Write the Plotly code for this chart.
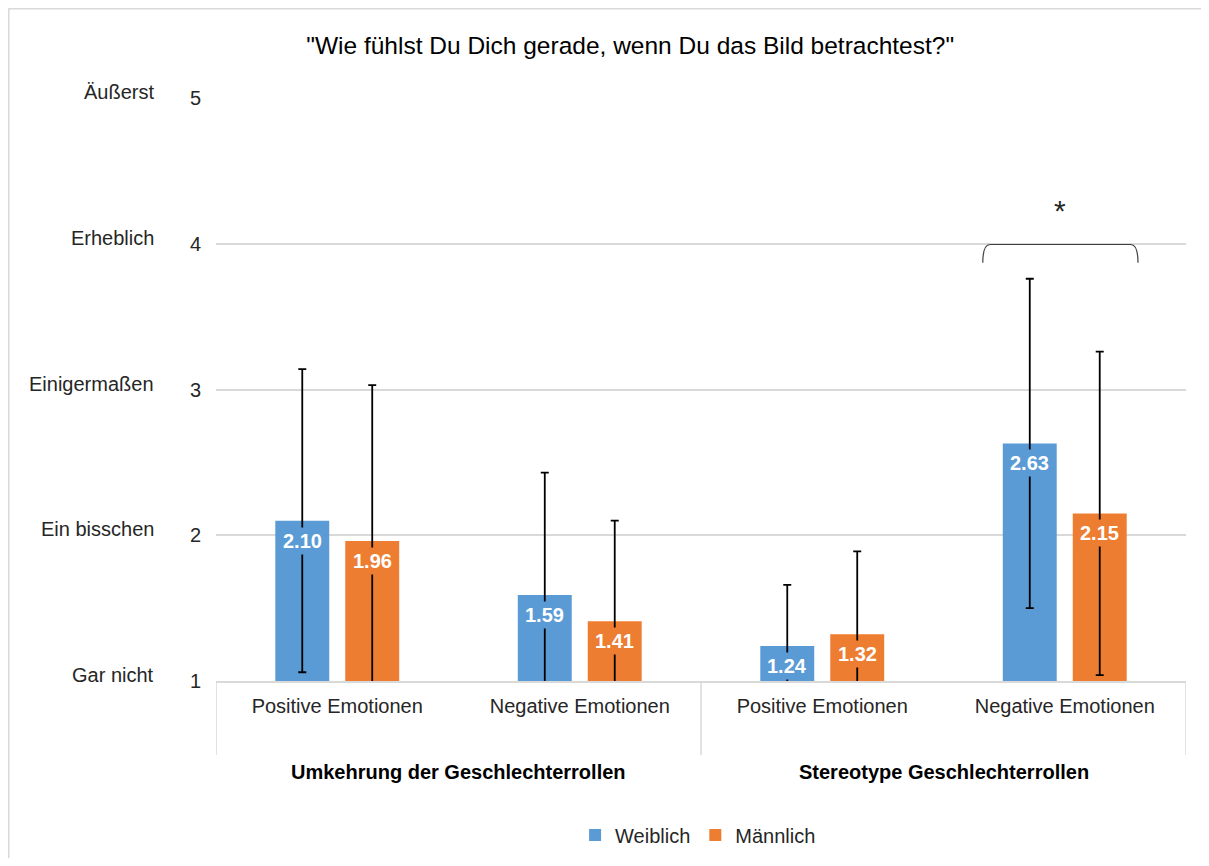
import plotly.graph_objects as go

# ---- data ----
inner_labels = ["Positive Emotionen", "Negative Emotionen", "Positive Emotionen", "Negative Emotionen"]
outer_labels = ["Umkehrung der Geschlechterrollen", "Stereotype Geschlechterrollen"]
series_names = ["Weiblich", "Männlich"]
weiblich = [2.10, 1.59, 1.24, 2.63]
maennlich = [1.96, 1.41, 1.32, 2.15]
weiblich_sd = [1.04, 0.84, 0.42, 1.13]
maennlich_sd = [1.07, 0.69, 0.57, 1.11]
y_ticks = [1, 2, 3, 4, 5]
y_verbal = ["Gar nicht", "Ein bisschen", "Einigermaßen", "Erheblich", "Äußerst"]
title = '"Wie fühlst Du Dich gerade, wenn Du das Bild betrachtest?"'

colors = ["#5b9bd5", "#ed7d31"]
FONT = "Liberation Sans, Arial, sans-serif"
x_pos = list(range(len(inner_labels)))

fig = go.Figure()
for name, vals, sds, col in zip(series_names, [weiblich, maennlich], [weiblich_sd, maennlich_sd], colors):
    fig.add_trace(go.Bar(
        x=x_pos, y=[v - 1 for v in vals], base=1, name=name,
        marker=dict(color=col, line=dict(width=0)),
        error_y=dict(type="data", array=sds, color="black", thickness=1.8, width=4),
        hoverinfo="skip",
    ))

# value labels (boxes in bar colour hide the error line, like the original)
slot = (1 - 0.423) / 2
for k, (vals, col) in enumerate(zip([weiblich, maennlich], colors)):
    off = -slot / 2 if k == 0 else slot / 2
    for i, v in enumerate(vals):
        fig.add_annotation(x=i + off, y=v, xref="x", yref="y", text=f"<b>{v:.2f}</b>",
                           showarrow=False, yanchor="top", yshift=-6,
                           font=dict(family=FONT, size=20, color="white"),
                           bgcolor=col, borderpad=2)

# verbal y labels
for t, lab in zip(y_ticks, y_verbal):
    fig.add_annotation(x=-0.062, y=t, xref="paper", yref="y", text=lab, showarrow=False,
                       xanchor="right", yanchor="middle", yshift=6,
                       font=dict(family=FONT, size=20, color="#262626"))

# outer category labels
for j, lab in enumerate(outer_labels):
    fig.add_annotation(x=0.5 + 2 * j, y=-0.156, xref="x", yref="paper", text=f"<b>{lab}</b>",
                       showarrow=False, xanchor="center", yanchor="middle",
                       font=dict(family=FONT, size=20, color="#000000"))

# dividers
for xd in [-0.5, 1.5, 3.5]:
    fig.add_shape(type="line", xref="x", yref="paper", x0=xd, x1=xd, y0=0, y1=-0.127,
                  line=dict(color="#d9d9d9", width=1.5))

# significance bracket and star
bx0, bx1, by0, by1 = 2.662, 3.302, 3.87, 3.995
fig.add_shape(type="path", xref="x", yref="y",
              path=f"M {bx0},{by0} Q {bx0},{by1} {bx0+0.03},{by1} L {bx1-0.03},{by1} Q {bx1},{by1} {bx1},{by0}",
              line=dict(color="#404040", width=1.2))
fig.add_annotation(x=2.98, y=4.23, xref="x", yref="y", text="*", showarrow=False,
                   font=dict(family=FONT, size=30, color="#262626"))

# chart border (only top and left edges are visible in the original crop)
fig.add_shape(type="line", xref="paper", yref="paper", x0=-0.2139, x1=1.06, y0=1.1535, y1=1.1535,
              line=dict(color="#d9d9d9", width=2), layer="below")
fig.add_shape(type="line", xref="paper", yref="paper", x0=-0.2139, x1=-0.2139, y0=-0.36, y1=1.1535,
              line=dict(color="#d9d9d9", width=2), layer="below")

fig.update_layout(
    width=1193, height=850,
    margin=dict(l=208, r=15, t=90, b=177, autoexpand=False),
    paper_bgcolor="white", plot_bgcolor="white",
    barmode="group", bargap=0.423, bargroupgap=0.229,
    title=dict(text=title, x=0.427, xref="paper", xanchor="center",
               y=1 - 37 / 850, yref="container", yanchor="middle",
               font=dict(family=FONT, size=24.5, color="#000000")),
    font=dict(family=FONT, size=20, color="#262626"),
    legend=dict(orientation="h", x=0.497, xanchor="center", xref="paper",
                y=23 / 850, yanchor="middle", yref="container",
                font=dict(family=FONT, size=20, color="#262626"), itemwidth=30,
                traceorder="normal"),
    xaxis=dict(tickmode="array", tickvals=x_pos, ticktext=inner_labels, range=[-0.5, 3.5],
               showline=True, linecolor="#d9d9d9", linewidth=1.5, showgrid=False, automargin=False,
               ticks="", ticklabelstandoff=6, tickfont=dict(family=FONT, size=20, color="#262626")),
    yaxis=dict(range=[1, 5], tickvals=y_ticks, showgrid=True, gridcolor="#d9d9d9", gridwidth=1.5,
               zeroline=False, showline=False, ticks="", ticklabelstandoff=14, automargin=False,
               tickfont=dict(family=FONT, size=20, color="#262626")),
)

fig.write_html("out.html")
